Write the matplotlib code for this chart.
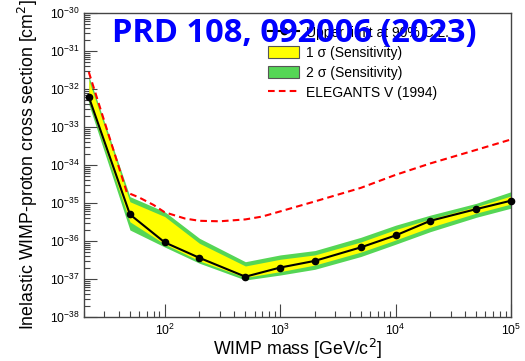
import matplotlib
matplotlib.use("Agg")
import matplotlib.pyplot as plt
from matplotlib.lines import Line2D
from matplotlib.patches import Patch
from matplotlib.ticker import LogLocator, NullFormatter

plt.rcParams['font.family'] = ['Liberation Sans', 'DejaVu Sans']

# WIMP masses [GeV/c^2] and 90% C.L. upper limits [cm^2]
mass = [22, 50, 100, 200, 500, 1000, 2000, 5000, 1e4, 2e4, 5e4, 1e5]
limit = [6.2e-33, 5.0e-36, 9.2e-37, 3.6e-37, 1.15e-37, 2.0e-37, 3.0e-37,
         6.8e-37, 1.4e-36, 3.4e-36, 6.9e-36, 1.15e-35]

# sensitivity bands
sig2_hi = [2.2e-32, 1.47e-35, 5.9e-36, 1.18e-36, 2.85e-37, 4.3e-37, 5.6e-37,
           1.25e-36, 2.6e-36, 4.8e-36, 9.8e-36, 1.98e-35]
sig1_hi = [1.7e-32, 1.08e-35, 4.4e-36, 8.7e-37, 2.2e-37, 3.3e-37, 4.3e-37,
           9.4e-37, 2.0e-36, 3.8e-36, 8.0e-36, 1.53e-35]
sig1_lo = [5.1e-33, 3.2e-36, 8.3e-37, 3.0e-37, 1.1e-37, 1.56e-37, 2.33e-37,
           5.1e-37, 1.06e-36, 2.3e-36, 5.4e-36, 9.4e-36]
sig2_lo = [4.0e-33, 1.95e-36, 6.95e-37, 2.6e-37, 9.4e-38, 1.27e-37, 1.8e-37,
           3.9e-37, 8.2e-37, 1.76e-36, 4.2e-36, 7.3e-36]

# ELEGANTS V (1994) limit
eleg_mass = [22, 47, 60, 80, 100, 150, 200, 300, 500, 700, 1000, 2000,
             5000, 1e4, 2e4, 5e4, 1e5]
eleg_xs = [2.8e-32, 1.9e-35, 1.4e-35, 8.9e-36, 5.7e-36, 3.9e-36, 3.4e-36,
           3.3e-36, 3.7e-36, 4.4e-36, 6.0e-36, 1.1e-35, 2.5e-35, 5.5e-35,
           1.1e-34, 2.5e-34, 4.7e-34]

GREEN = '#55D655'
YELLOW = '#FFFF00'
FRAME = '#444444'

fig = plt.figure(figsize=(5.25, 3.61), dpi=100)
ax = fig.add_axes([84 / 525, 1 - 317 / 361, 427 / 525, 304 / 361])

ax.fill_between(mass, sig2_lo, sig2_hi, color=GREEN, lw=0, zorder=1)
ax.fill_between(mass, sig1_lo, sig1_hi, color=YELLOW, lw=0, zorder=2)
ax.plot(eleg_mass, eleg_xs, color='#FF0000', lw=1.5,
        linestyle=(0, (3.2, 2.0)), zorder=3)
ax.plot(mass, limit, color='black', lw=1.5, marker='o', ms=4.5, zorder=4,
        clip_on=False)

ax.set_xscale('log')
ax.set_yscale('log')
ax.set_xlim(20, 1e5)
ax.set_ylim(1e-38, 1e-30)

ax.xaxis.set_major_locator(LogLocator(base=10, numticks=10))
ax.xaxis.set_minor_locator(LogLocator(base=10, subs=range(2, 10), numticks=20))
ax.xaxis.set_minor_formatter(NullFormatter())
ax.yaxis.set_major_locator(LogLocator(base=10, numticks=20))
ax.yaxis.set_minor_locator(LogLocator(base=10, subs=range(2, 10), numticks=30))
ax.yaxis.set_minor_formatter(NullFormatter())

for sp in ax.spines.values():
    sp.set_color(FRAME)
    sp.set_linewidth(1.0)

ax.tick_params(axis='both', which='both', direction='in', color=FRAME,
               width=0.8, labelsize=8.8, top=False, right=False)
ax.tick_params(axis='y', which='major', length=9, pad=3)
ax.tick_params(axis='y', which='minor', length=4.5)
ax.tick_params(axis='x', which='major', length=9.5, pad=4)
ax.tick_params(axis='x', which='minor', length=4)

fig.text(28 / 525, 1 - 165 / 361,
         'Inelastic WIMP-proton cross section [cm$^{2}$]',
         rotation=90, ha='center', va='center', fontsize=12.8)
fig.text(297.5 / 525, 1 - 355 / 361, 'WIMP mass [GeV/c$^{2}$]',
         ha='center', va='baseline', fontsize=12.8)

handles = [
    Line2D([], [], color='black', lw=1.5, marker='o', ms=4.5),
    Patch(facecolor=YELLOW, edgecolor='#555555', lw=0.8),
    Patch(facecolor=GREEN, edgecolor='#555555', lw=0.8),
    Line2D([], [], color='#FF0000', lw=1.5, linestyle=(0, (3.2, 2.0))),
]
labels = ['Upper limit at 90% C.L.', '1 σ (Sensitivity)',
          '2 σ (Sensitivity)', 'ELEGANTS V (1994)']
leg = ax.legend(handles, labels, loc='upper left',
                bbox_to_anchor=(0.4316, 0.958), frameon=False,
                fontsize=10, borderpad=0, borderaxespad=0,
                handlelength=2.2, handleheight=0.95, handletextpad=0.48,
                labelspacing=0.43)
leg.set_zorder(5)

ax.text(0.065, 0.905, 'PRD 108, 092006 (2023)', transform=ax.transAxes,
        fontsize=23.5, fontweight='bold', family='Open Sans', color='#0000FF',
        va='baseline', ha='left', zorder=10)

fig.savefig('out.png', dpi=100)
